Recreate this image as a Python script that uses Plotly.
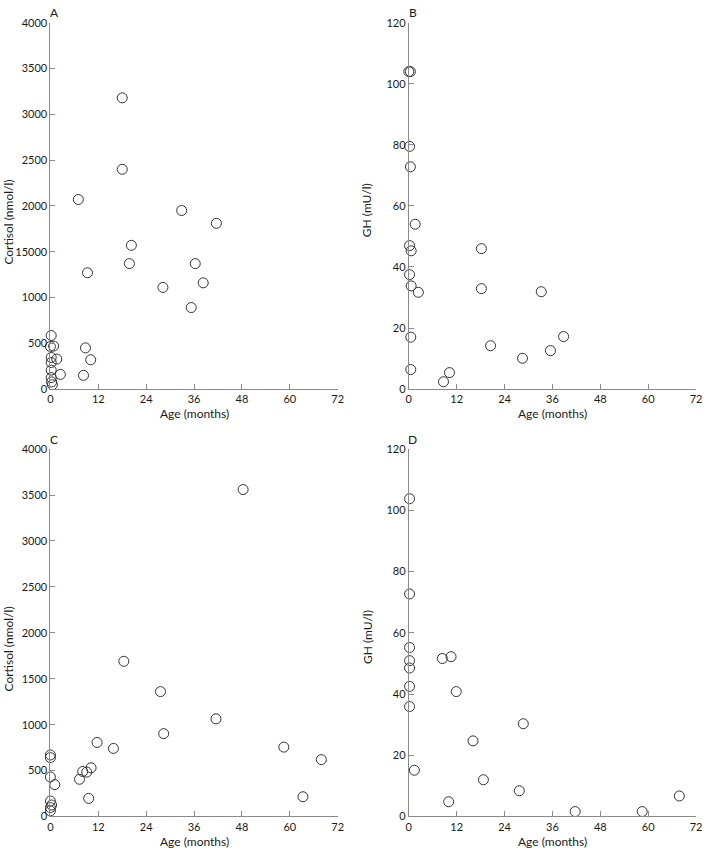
import plotly.graph_objects as go

# Panel A: cortisol vs age
a_age = [18.0, 18.0, 7.0, 32.9, 41.6, 20.3, 19.8, 36.3, 9.3, 38.3, 28.2, 35.3, 8.8, 10.1, 8.3,
         0.2, 0.8, 0.0, 0.2, 1.6, 0.2, 0.2, 2.5, 0.2, 0.3, 0.5]
a_cort = [3180, 2400, 2070, 1950, 1810, 1570, 1370, 1370, 1270, 1160, 1110, 890, 450, 320, 150,
          585, 470, 465, 345, 328, 290, 207, 160, 125, 78, 48]

# Panel B: GH vs age
b_age = [0.0, 0.4, 0.2, 0.4, 1.6, 0.2, 0.6, 0.2, 0.6, 2.4, 0.5, 0.5,
         18.2, 18.2, 33.2, 20.5, 38.8, 35.5, 28.5, 10.2, 8.7]
b_gh = [104, 104, 79.5, 72.8, 54.0, 47.0, 45.3, 37.5, 33.8, 31.7, 17.0, 6.4,
        46.0, 32.9, 31.9, 14.2, 17.2, 12.6, 10.1, 5.4, 2.4]

# Panel C: cortisol vs age
c_age = [48.3, 18.4, 27.6, 41.5, 28.4, 11.7, 15.8, 58.5, 67.9, 63.3, 10.2, 8.1, 9.1, 7.3, 9.6,
         0.0, 0.0, 0.0, 1.1, 0.0, 0.3, 0.0, 0.0]
c_cort = [3560, 1690, 1360, 1063, 902, 806, 741, 755, 619, 215, 530, 490, 483, 405, 197,
          670, 641, 430, 347, 168, 125, 97, 61]

# Panel D: GH vs age
d_age = [0.2, 0.2, 0.2, 0.2, 0.2, 0.2, 0.2, 1.4, 8.4, 10.6, 11.9, 16.1, 18.7, 28.7, 27.7,
         10.0, 41.7, 58.5, 67.8]
d_gh = [103.8, 72.7, 55.2, 50.9, 48.5, 42.5, 35.9, 15.1, 51.6, 52.2, 40.8, 24.7, 12.0, 30.3, 8.4,
        4.8, 1.6, 1.6, 6.7]

x_ticks = [0, 12, 24, 36, 48, 60, 72]
cort_ticks = [0, 500, 1000, 1500, 2000, 2500, 3000, 3500, 4000]
cort_ticktext_a = ["0", "500", "1000", "15000", "2000", "2500", "3000", "3500", "4000"]
cort_ticktext_c = ["0", "500", "1000", "1500", "2000", "2500", "3000", "3500", "4000"]
gh_ticks = [0, 20, 40, 60, 80, 100, 120]

W, H = 708, 853
FONT = "Lato"
TXT = "#1a1a1a"
AX = "#8a8a8a"

def px_x(p):
    return p / W

def px_y(p):
    return 1 - p / H

panels = [
    dict(name="A", x=a_age, y=a_cort, xd=[48, 339], yd=[16, 388], yr=[0, 4000],
         ytv=cort_ticks, ytt=cort_ticktext_a, ytitle="Cortisol (nmol/l)"),
    dict(name="B", x=b_age, y=b_gh, xd=[411, 702], yd=[16, 388], yr=[0, 120],
         ytv=gh_ticks, ytt=[str(v) for v in gh_ticks], ytitle="GH (mU/l)"),
    dict(name="C", x=c_age, y=c_cort, xd=[48, 339], yd=[449, 822], yr=[0, 4000],
         ytv=cort_ticks, ytt=cort_ticktext_c, ytitle="Cortisol (nmol/l)"),
    dict(name="D", x=d_age, y=d_gh, xd=[411, 702], yd=[449, 822], yr=[0, 120],
         ytv=gh_ticks, ytt=[str(v) for v in gh_ticks], ytitle="GH (mU/l)"),
]

fig = go.Figure()
annotations = []
layout = {}
for i, p in enumerate(panels):
    n = "" if i == 0 else str(i + 1)
    fig.add_trace(go.Scatter(
        x=p["x"], y=p["y"], mode="markers", xaxis="x" + n, yaxis="y" + n,
        marker=dict(symbol="circle-open", size=10, color="#333333", line=dict(width=1)),
        cliponaxis=False, showlegend=False, hoverinfo="x+y"))
    xd = [px_x(p["xd"][0]), px_x(p["xd"][1])]
    yd = [px_y(p["yd"][1]), px_y(p["yd"][0])]
    layout["xaxis" + n] = dict(
        domain=xd, range=[0, 72], tickvals=x_ticks, ticktext=[str(v) for v in x_ticks],
        ticks="inside", ticklen=5, tickcolor=AX, showline=True, linecolor=AX, linewidth=1,
        showgrid=False, zeroline=False, anchor="y" + n,
        tickfont=dict(family=FONT, size=11, color=TXT), fixedrange=True)
    layout["yaxis" + n] = dict(
        domain=yd, range=p["yr"], tickvals=p["ytv"], ticktext=p["ytt"],
        ticks="inside", ticklen=5, tickcolor=AX, showline=True, linecolor=AX, linewidth=1,
        showgrid=False, zeroline=False, anchor="x" + n,
        tickfont=dict(family=FONT, size=11, color=TXT), fixedrange=True)
    # panel letter
    annotations.append(dict(text=p["name"], x=px_x(p["xd"][0] + 4), y=px_y(p["yd"][0] - 10),
                            xref="paper", yref="paper", showarrow=False,
                            xanchor="center", yanchor="middle",
                            font=dict(family=FONT, size=12, color=TXT)))
    # x title
    annotations.append(dict(text="Age (months)", x=px_x((p["xd"][0] + p["xd"][1]) / 2),
                            y=px_y(p["yd"][1] + 25), xref="paper", yref="paper",
                            showarrow=False, xanchor="center", yanchor="middle",
                            font=dict(family=FONT, size=12, color=TXT)))
    # y title
    ycen = (p["yd"][0] + p["yd"][1]) / 2 + (16 if p["yr"][1] == 4000 else 4)
    annotations.append(dict(text=p["ytitle"], x=px_x(p["xd"][0] - 42), y=px_y(ycen),
                            xref="paper", yref="paper", showarrow=False, textangle=-90,
                            xanchor="center", yanchor="middle",
                            font=dict(family=FONT, size=12, color=TXT)))

fig.update_layout(
    width=W, height=H, margin=dict(l=0, r=0, t=0, b=0),
    paper_bgcolor="white", plot_bgcolor="white",
    annotations=annotations, **layout)

fig.write_html("out.html", config={"displayModeBar": False},
               post_script="document.body.style.margin='0';document.body.style.overflow='hidden';")
